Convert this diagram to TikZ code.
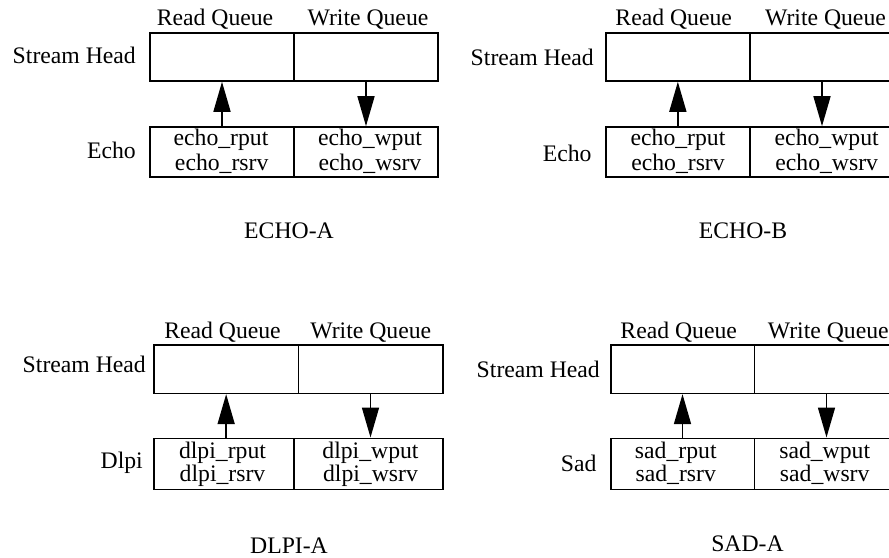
\documentclass[tikz,border=0pt]{standalone}
\usepackage{fontspec}
\setmainfont{Liberation Serif}
\usetikzlibrary{arrows.meta}
\begin{document}
\begin{tikzpicture}[x=1pt,y=-1pt,
  every node/.style={font=\fontsize{23.7}{23}\selectfont},
  cell/.style={draw, line width=1.6pt, inner sep=0pt, minimum height=#1},
  cell/.default=48pt,
  txt/.style={inner sep=0pt, anchor=base},
  lbl/.style={inner sep=0pt, anchor=base east},
  arr/.style={line width=1.6pt, -{Triangle[length=30pt,width=17pt]}}]
\useasboundingbox (0,0) rectangle (889,557);

% ---------- ECHO-A ----------
\node[cell, minimum width=144pt] (sAr) at (222,57) {};
\node[cell, minimum width=144pt] (sAw) at (366,57) {};
\node[cell=50pt, minimum width=144pt] (mAr) at (222,152) {};
\node[cell=50pt, minimum width=144pt] (mAw) at (366,152) {};
\node[txt] (qAr) at (215,25) {Read Queue};
\node[txt] (qAw) at (368,25) {Write Queue};
\node[lbl] (hA) at (136,63.3) {Stream Head};
\node[lbl] (nA) at (136,158.3) {Echo};
\node[txt] (tA1) at (221,145.7) {echo\_rput};
\node[txt] (tA2) at (221.7,170) {echo\_rsrv};
\node[txt] (tA3) at (370,145.7) {echo\_wput};
\node[txt] (tA4) at (370,170) {echo\_wsrv};
\node[txt] (cA) at (289,238.3) {ECHO-A};
\draw[arr] (mAr.north -| sAr.south) -- (sAr.south);
\draw[arr] (sAw.south) -- (mAw.north -| sAw.south);

% ---------- ECHO-B ----------
\node[cell, minimum width=144.3pt] (sBr) at (677.85,57) {};
\node[cell, minimum width=144pt] (sBw) at (822,57) {};
\node[cell=50pt, minimum width=144.3pt] (mBr) at (677.85,152) {};
\node[cell=50pt, minimum width=144pt] (mBw) at (822,152) {};
\node[txt] (qBr) at (673.7,25) {Read Queue};
\node[txt] (qBw) at (825.5,25) {Write Queue};
\node[lbl] (hB) at (594,65) {Stream Head};
\node[lbl] (nB) at (591.7,161.7) {Echo};
\node[txt] (tB1) at (678,145.7) {echo\_rput};
\node[txt] (tB2) at (678,170) {echo\_rsrv};
\node[txt] (tB3) at (826.7,145.7) {echo\_wput};
\node[txt] (tB4) at (826.7,170) {echo\_wsrv};
\node[txt] (cB) at (743,238.3) {ECHO-B};
\draw[arr] (mBr.north -| sBr.south) -- (sBr.south);
\draw[arr] (sBw.south) -- (mBw.north -| sBw.south);

% ---------- DLPI-A ----------
\node[cell=48.3pt, minimum width=144.3pt] (sCr) at (226.15,369.2) {};
\node[cell=48.3pt, minimum width=144.4pt] (sCw) at (370.5,369.2) {};
\node[cell=51pt, minimum width=140pt] (mCr) at (224,463.8) {};
\node[cell=51pt, minimum width=148.7pt] (mCw) at (368.35,463.8) {};
\node[txt] (qCr) at (222.5,338.3) {Read Queue};
\node[txt] (qCw) at (370.8,338.3) {Write Queue};
\node[lbl] (hC) at (146,372.7) {Stream Head};
\node[lbl] (nC) at (143,468.3) {Dlpi};
\node[txt] (tC1) at (222.5,458.3) {dlpi\_rput};
\node[txt] (tC2) at (222.5,481.7) {dlpi\_rsrv};
\node[txt] (tC3) at (370.5,458.3) {dlpi\_wput};
\node[txt] (tC4) at (370.5,481.7) {dlpi\_wsrv};
\node[txt] (cC) at (289,553.3) {DLPI-A};
\draw[arr] (mCr.north -| sCr.south) -- (sCr.south);
\draw[arr] (sCw.south) -- (mCw.north -| sCw.south);

% ---------- SAD-A ----------
\node[cell=48.3pt, minimum width=143.6pt] (sDr) at (682.5,369.2) {};
\node[cell=48.3pt, minimum width=144.4pt] (sDw) at (826.5,369.2) {};
\node[cell=51pt, minimum width=143.6pt] (mDr) at (682.5,463.8) {};
\node[cell=51pt, minimum width=144.4pt] (mDw) at (826.5,463.8) {};
\node[txt] (qDr) at (678.7,338.3) {Read Queue};
\node[txt] (qDw) at (828.3,338.3) {Write Queue};
\node[lbl] (hD) at (600,377.3) {Stream Head};
\node[lbl] (nD) at (596.7,471.7) {Sad};
\node[txt] (tD1) at (675.8,458.3) {sad\_rput};
\node[txt] (tD2) at (675.8,481.7) {sad\_rsrv};
\node[txt] (tD3) at (824.7,458.3) {sad\_wput};
\node[txt] (tD4) at (824.7,481.7) {sad\_wsrv};
\node[txt] (cD) at (747.5,551.7) {SAD-A};
\draw[arr] (mDr.north -| sDr.south) -- (sDr.south);
\draw[arr] (sDw.south) -- (mDw.north -| sDw.south);
\end{tikzpicture}
\end{document}
